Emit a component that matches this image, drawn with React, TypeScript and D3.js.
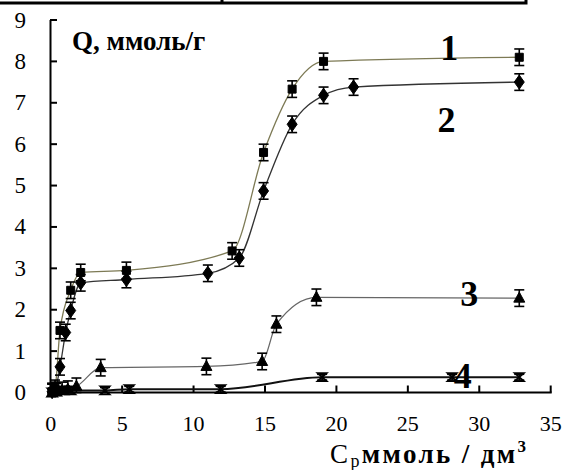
import React, { useEffect, useRef } from 'react';
import * as d3 from 'd3';

// [C, Q] pairs
const series1 = [[0.1, 0.02], [0.3, 0.1], [0.65, 1.5], [1.4, 2.47], [2.1, 2.9], [5.3, 2.95], [12.7, 3.42], [14.9, 5.8], [16.9, 7.33], [19.1, 8.0], [32.8, 8.1]];
const series2 = [[0.1, 0.02], [0.3, 0.05], [0.65, 0.62], [1.05, 1.45], [1.4, 1.98], [2.1, 2.65], [5.3, 2.73], [11, 2.88], [13.2, 3.25], [14.9, 4.87], [16.9, 6.48], [19.1, 7.18], [21.2, 7.38], [32.8, 7.5]];
const series3 = [[0.1, 0], [0.4, 0.02], [0.8, 0.05], [1.2, 0.08], [1.8, 0.15], [3.5, 0.6], [10.9, 0.63], [14.8, 0.75], [15.8, 1.65], [18.6, 2.3], [32.8, 2.28]];
const series4 = [[0.1, 0], [0.4, 0.02], [0.9, 0.05], [1.4, 0.05], [3.8, 0.05], [5.5, 0.08], [11.9, 0.08], [19, 0.37], [28.1, 0.37], [32.8, 0.37]];
const errors = [0.2, 0.2, 0.2, 0.07];
const curveLabels = ['1', '2', '3', '4'];
const labelPos = [[27.9, 8.04], [27.7, 6.3], [29.3, 2.1], [28.85, 0.11]];
const xTicks = [0, 5, 10, 15, 20, 25, 30, 35];
const yTicks = [0, 1, 2, 3, 4, 5, 6, 7, 8, 9];

const App = () => {
    const svgRef = useRef<SVGSVGElement>(null);

    useEffect(() => {
        const svg = d3.select(svgRef.current);
        svg.selectAll('*').remove();

        const x = d3.scaleLinear().domain([0, 35]).range([50.7, 550.7]);
        const y = d3.scaleLinear().domain([0, 9]).range([392.5, 20]);

        // top frame line
        svg.append('path').attr('d', 'M0,3 H526 V0 M222,3 V0')
            .attr('stroke', '#000').attr('stroke-width', 3).attr('fill', 'none');

        // axes
        svg.append('line').attr('x1', 50.5).attr('x2', 50.5).attr('y1', y(9)).attr('y2', y(0) + 1)
            .attr('stroke', '#000').attr('stroke-width', 2);
        svg.append('line').attr('x1', 50).attr('x2', x(35) + 1).attr('y1', y(0)).attr('y2', y(0))
            .attr('stroke', '#000').attr('stroke-width', 2);

        yTicks.forEach(t => {
            svg.append('line').attr('x1', 50).attr('x2', 57).attr('y1', y(t)).attr('y2', y(t))
                .attr('stroke', '#000').attr('stroke-width', 2);
            svg.append('text').attr('x', 26).attr('y', y(t) + 7.5).attr('text-anchor', 'end')
                .attr('font-size', 23).text(t);
        });
        xTicks.forEach(t => {
            svg.append('line').attr('x1', x(t)).attr('x2', x(t)).attr('y1', y(0)).attr('y2', y(0) - 7)
                .attr('stroke', '#000').attr('stroke-width', 2);
            svg.append('text').attr('x', x(t)).attr('y', 431).attr('text-anchor', 'middle')
                .attr('font-size', 22).text(t);
        });

        const all = [series1, series2, series3, series4];
        const lineColors = ['#7d7a55', '#333', '#666', '#111'];
        const lineWidths = [1.3, 1.3, 1.2, 2];

        const line = d3.line<number[]>()
            .x(d => x(d[0]))
            .y(d => y(d[1]))
            .curve(d3.curveMonotoneX);

        all.forEach((s, i) => {
            svg.append('path').attr('d', line(s))
                .attr('fill', 'none').attr('stroke', lineColors[i]).attr('stroke-width', lineWidths[i]);
        });

        // error bars
        all.forEach((s, i) => {
            const g = svg.append('g').attr('stroke', '#000').attr('stroke-width', 1.6);
            s.forEach(d => {
                const cx = x(d[0]);
                const top = y(d[1] + errors[i]);
                const bot = y(Math.max(d[1] - errors[i], 0));
                g.append('line').attr('x1', cx).attr('x2', cx).attr('y1', top).attr('y2', bot);
                g.append('line').attr('x1', cx - 5).attr('x2', cx + 5).attr('y1', top).attr('y2', top);
                g.append('line').attr('x1', cx - 5).attr('x2', cx + 5).attr('y1', bot).attr('y2', bot);
            });
        });

        // markers
        const markers = [
            'M-4,-4H4V4H-4Z',
            'M0,-7L5,0L0,7L-5,0Z',
            'M0,-6L5.5,4H-5.5Z',
            'M-4.5,-4H4.5L-4.5,4H4.5Z'
        ];
        all.forEach((s, i) => {
            svg.append('g').selectAll('path').data(s).enter().append('path')
                .attr('transform', d => `translate(${x(d[0])},${y(d[1])})`)
                .attr('d', markers[i])
                .attr('fill', i === 3 ? 'none' : '#000')
                .attr('stroke', '#000')
                .attr('stroke-width', i === 3 ? 1.8 : 1);
        });

        // curve numbers
        curveLabels.forEach((l, i) => {
            svg.append('text').attr('x', x(labelPos[i][0])).attr('y', y(labelPos[i][1]))
                .attr('text-anchor', 'middle').attr('font-weight', 'bold')
                .attr('font-size', 36).text(l);
        });

        // axis titles
        svg.append('text').attr('x', 72).attr('y', 50)
            .attr('font-weight', 'bold').attr('font-size', 27).text('Q, ммоль/г');

        const xt = svg.append('text').attr('x', 330).attr('y', 463).attr('font-size', 27)
            .attr('textLength', 196).attr('lengthAdjust', 'spacing');
        xt.append('tspan').text('C');
        xt.append('tspan').attr('font-size', 18).attr('dy', 4).text('р');
        xt.append('tspan').attr('font-weight', 'bold').attr('dy', -4).text('ммоль / дм');
        xt.append('tspan').attr('font-weight', 'bold').attr('font-size', 17).attr('dy', -11).text('3');
    }, []);

    return (
        <svg ref={svgRef} width={566} height={470}
            style={{ position: 'absolute', left: 0, top: 0, background: '#fff', fontFamily: 'Liberation Serif, serif' }} />
    );
};

export default App;
